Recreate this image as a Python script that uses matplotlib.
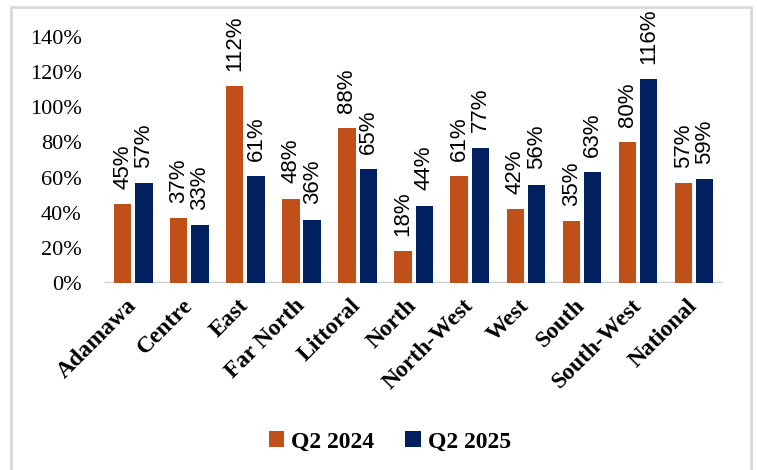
import numpy as np
import matplotlib.pyplot as plt
from matplotlib.patches import Rectangle

regions = ["Adamawa", "Centre", "East", "Far North", "Littoral", "North",
           "North-West", "West", "South", "South-West", "National"]
q2_2024 = [45, 37, 112, 48, 88, 18, 61, 42, 35, 80, 57]
q2_2025 = [57, 33, 61, 36, 65, 44, 77, 56, 63, 116, 59]
yticks = [0, 20, 40, 60, 80, 100, 120, 140]

orange = "#C0501A"
navy = "#002060"
serif = ["Liberation Serif", "DejaVu Serif"]
sans = ["Liberation Sans", "DejaVu Sans"]

fig = plt.figure(figsize=(7.57, 4.70), dpi=100)
ax = fig.add_axes([0.139, 0.398, 0.815, 0.523])

x = np.arange(len(regions))
w = 0.31
off = 0.19
b1 = ax.bar(x - off, q2_2024, w, color=orange, label="Q2 2024", zorder=2)
b2 = ax.bar(x + off, q2_2025, w, color=navy, label="Q2 2025", zorder=2)

# rotated value labels above each bar
for bars, vals in ((b1, q2_2024), (b2, q2_2025)):
    for r, v in zip(bars, vals):
        ax.annotate(f"{v}%", (r.get_x() + r.get_width() / 2, v),
                    xytext=(0, 11), textcoords="offset points",
                    rotation=90, ha="center", va="bottom",
                    fontsize=16, family=sans, annotation_clip=False)

ax.set_xlim(-0.5, len(regions) - 0.5)
ax.set_ylim(0, 140)
ax.set_yticks(yticks)
ax.set_yticklabels([f"{t}%" for t in yticks], family=serif, fontsize=16)
ax.set_xticks(x)
ax.set_xticklabels(regions, rotation=45, ha="right", va="center",
                   rotation_mode="anchor", family=serif, fontsize=17,
                   fontweight="bold")
ax.tick_params(axis="both", length=0)
ax.tick_params(axis="x", pad=14)
ax.tick_params(axis="y", pad=17)
for s in ax.spines.values():
    s.set_visible(False)
ax.axhline(0, color="#d0d0d0", lw=2.5, zorder=1)

leg = fig.legend(loc="center", bbox_to_anchor=(0.515, 0.06), ncol=2, frameon=False,
                 prop={"family": serif, "size": 17, "weight": "bold"},
                 handlelength=0.65, handleheight=0.65, handletextpad=0.3,
                 columnspacing=1.3)

# light grey frame around the whole chart
fig.patches.append(Rectangle((11 / 757, -0.05), 740 / 757, 1.05 - 7 / 470,
                             transform=fig.transFigure, fill=False,
                             edgecolor="#d9d9d9", lw=2))

fig.savefig("out.png", dpi=100)
